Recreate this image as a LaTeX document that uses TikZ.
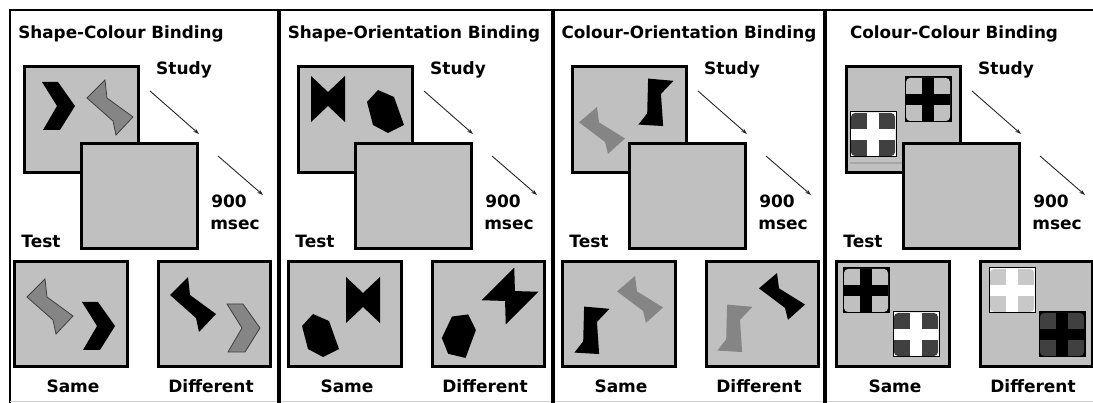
\documentclass[tikz,border=0pt]{standalone}
\usepackage{fontspec}
\setmainfont{DejaVu Sans}
\usepackage{tikz}
\usetikzlibrary{arrows.meta}

\definecolor{screengray}{HTML}{C0C0C0}
\definecolor{shapegray}{HTML}{858585}
\definecolor{darkquad}{HTML}{404040}
\definecolor{lightquad}{HTML}{C8C8C8}

\begin{document}
\begin{tikzpicture}[x=1pt,y=-1pt,
    screen/.style={fill=screengray, draw=black, line width=3pt},
    txt/.style={font=\fontsize{17}{20}\selectfont\bfseries, anchor=base, inner sep=0pt},
    heading/.style={txt, font=\fontsize{16.8}{20}\selectfont\bfseries},
    delay/.style={-{Stealth[length=6pt,width=4pt]}, draw=black!85, line width=0.9pt},
    outlined/.style={fill=shapegray, draw=black!75, line width=0.8pt},
    bolt/.pic={\path[pic actions] (-23,-9) -- (-5,-27) -- (-3,-9) -- (23,10) -- (6,28) -- (3,14) -- cycle;},
    chevron/.pic={\path[pic actions] (-16,-24) -- (0,-24) -- (17,0) -- (2,24) -- (-15,24) -- (-1,0) -- cycle;},
    bowtie/.pic={\path[pic actions] (-17,-23) -- (0,-7) -- (17,-23) -- (17,23) -- (0,7) -- (-17,23) -- cycle;},
    hexa/.pic={\path[pic actions] (-7,-21) -- (9,-14) -- (19,14) -- (3,22) -- (-12,14) -- (-18,-9) -- cycle;}]
  \useasboundingbox (0,0) rectangle (1093,403);

  % Outer frame and panel dividers
  \draw[line width=2.5pt] (10,403) -- (10,10) -- (1093,10);
  \draw[gray!35, line width=1pt] (10,402) -- (1093,402);
  \foreach \x in {279,553,825}
    \draw[line width=4pt] (\x,10) -- (\x,403);

  % Screens, timing arrows and labels of each panel
  \foreach \dx/\tx/\ttl [count=\i] in {0/121/Shape-Colour Binding, 274/414/Shape-Orientation Binding,
      548/689/Colour-Orientation Binding, 822/954/Colour-Colour Binding}{
    \node[heading] (title\i) at (\tx,39) {\ttl};
    \begin{scope}[xshift=\dx]
      \draw[screen] (24,67) rectangle (138,173);
      \draw[screen] (81,144) rectangle (197,249);
      \draw[screen] (14,262) rectangle (127,367);
      \draw[screen] (158,262) rectangle (270,367);
      \coordinate (p\i) at (150,91);
      \coordinate (q\i) at (199,134);
      \coordinate (r\i) at (218,156);
      \coordinate (s\i) at (263,195);
      \node[txt] (study\i) at (184,75) {Study};
      \node[txt] (nine\i) at (229,208) {900};
      \node[txt] (msec\i) at (235,230) {msec};
      \node[txt] (test\i) at (41,248) {Test};
      \node[txt] (same\i) at (73,392) {Same};
      \node[txt] (diff\i) at (211,392) {Different};
    \end{scope}
    \draw[delay] (p\i) -- (q\i);
    \draw[delay] (r\i) -- (s\i);
  }

  % Shape-colour
  \pic[fill=black] at (58,106) {chevron};
  \pic[outlined] at (110,107) {bolt};
  \pic[outlined] at (50,306) {bolt};
  \pic[fill=black] at (98,326) {chevron};
  \pic[fill=black] at (193,304) {bolt};
  \pic[outlined] at (243,328) {chevron};

  % Shape-orientation
  \pic[fill=black] at (328,99) {bowtie};
  \pic[fill=black] at (385,111) {hexa};
  \pic[fill=black] at (363,300) {bowtie};
  \pic[fill=black] at (320,335) {hexa};
  \pic[fill=black, rotate=-45] at (510,296) {bowtie};
  \pic[fill=black, rotate=-40] at (460,335) {hexa};

  % Colour-orientation
  \pic[fill=shapegray, yscale=0.85] at (602,130) {bolt};
  \pic[fill=black, rotate=-50] at (656,102) {bolt};
  \pic[fill=black, rotate=-50] at (592,330) {bolt};
  \pic[fill=shapegray, yscale=0.85] at (640,299) {bolt};
  \pic[fill=black, yscale=0.85] at (782,296) {bolt};
  \pic[fill=shapegray, rotate=-50] at (735,328) {bolt};

  % Colour-colour: cross tiles
  \draw[gray!70, line width=1.5pt] (850,163) -- (902,163);
  \foreach \tx/\ty/\cc/\qc in {850/112/white/darkquad, 905/77/black/screengray,
      843/268/black/screengray, 893/312/white/darkquad,
      989/268/white/lightquad, 1039/312/black/darkquad}{
    \fill[\cc] (\tx,\ty) rectangle ++(46,45);
    \fill[\qc, rounded corners=4pt] (\tx+1,\ty+1) rectangle ++(44,43);
    \fill[\cc] (\tx+17,\ty+1) rectangle ++(12,43);
    \fill[\cc] (\tx+1,\ty+17) rectangle ++(44,11);
    \draw[line width=1pt] (\tx,\ty) rectangle ++(46,45);
  }
\end{tikzpicture}
\end{document}
